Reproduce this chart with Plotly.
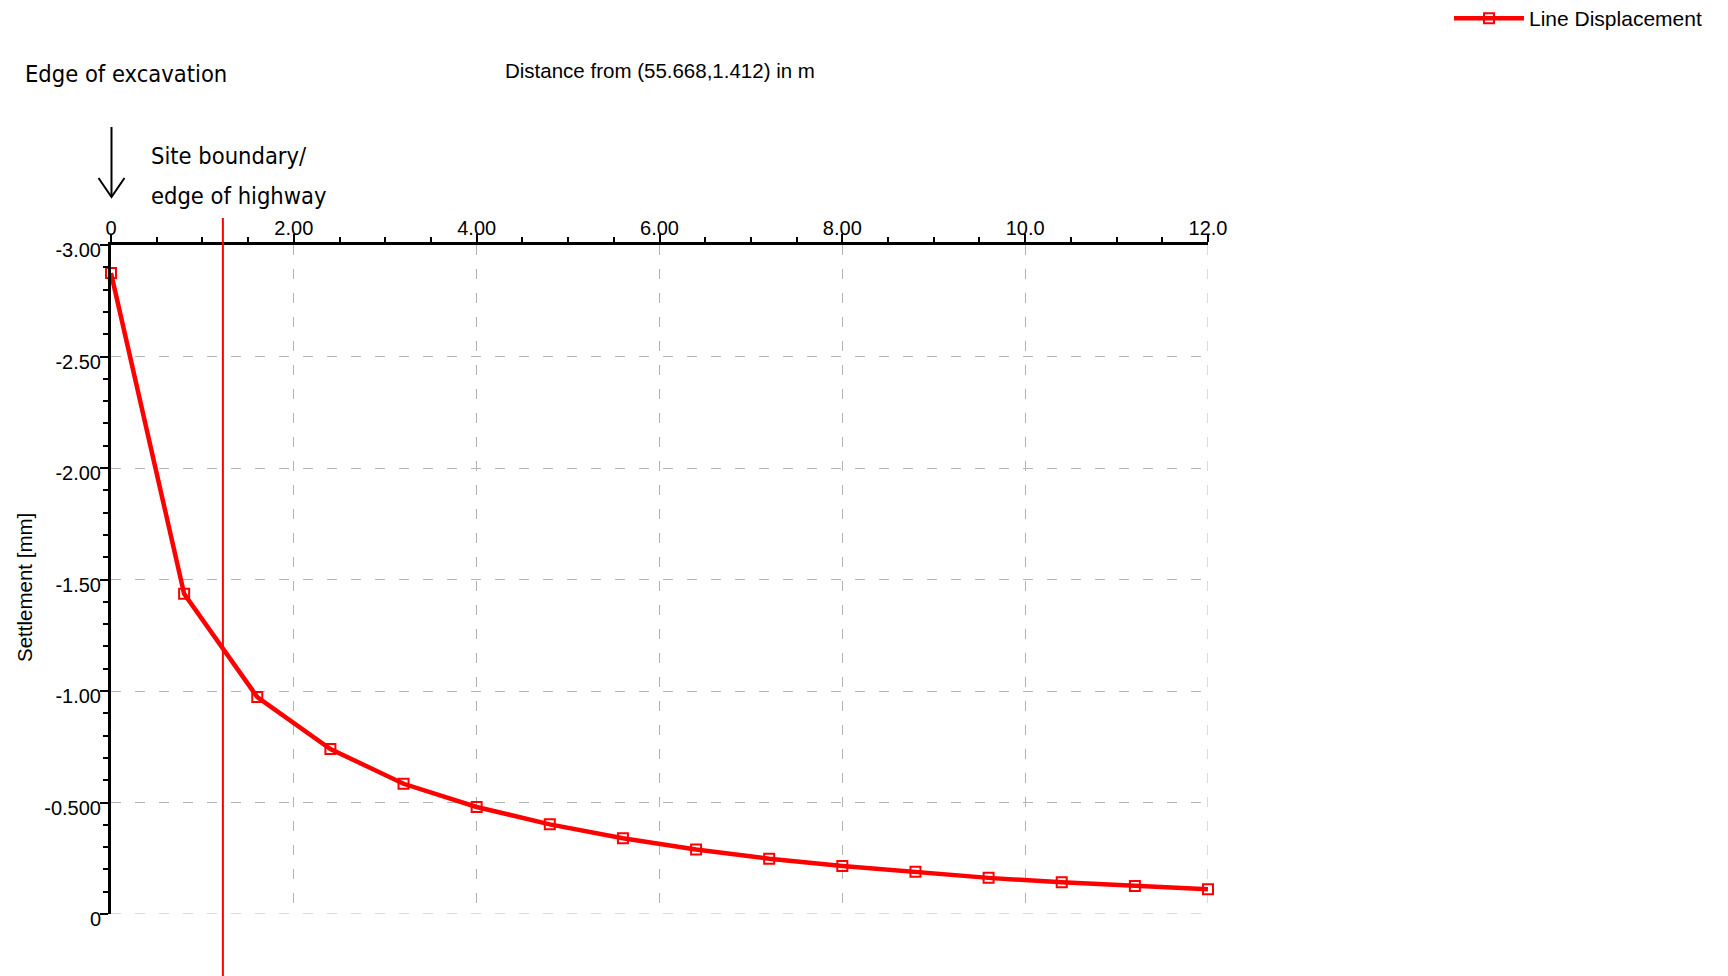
import plotly.graph_objects as go

# Settlement profile along the line (distance in m, settlement in mm)
distance_m = [0.0, 0.8, 1.6, 2.4, 3.2, 4.0, 4.8, 5.6, 6.4, 7.2, 8.0, 8.8, 9.6, 10.4, 11.2, 12.0]
settlement_mm = [-2.874, -1.436, -0.973, -0.740, -0.584, -0.480, -0.402, -0.340,
                 -0.289, -0.248, -0.215, -0.189, -0.162, -0.142, -0.126, -0.111]

x_tickvals = [0, 2, 4, 6, 8, 10, 12]
x_ticktext = ["0", "2.00", "4.00", "6.00", "8.00", "10.0", "12.0"]
y_tickvals = [-3.0, -2.5, -2.0, -1.5, -1.0, -0.5, 0.0]
y_ticktext = ["-3.00", "-2.50", "-2.00", "-1.50", "-1.00", "-0.500", "0"]

boundary_x = 1.224  # site boundary / edge of highway

W, H = 1728, 976
ML, MR, MT, MB = 111, 520, 245, 62
PW, PH = W - ML - MR, H - MT - MB


def px_to_paper_x(px):
    return (px - ML) / PW


def px_to_paper_y(py):
    return (H - MB - py) / PH


ARIAL = "Liberation Sans, Arial, sans-serif"
NARROW = "DejaVu Sans Condensed, Liberation Sans Narrow, sans-serif"
RED = "#ff0000"
GRID = "#b4b4b4"
DASH = "10px,14px"

fig = go.Figure()
fig.add_trace(go.Scatter(
    x=distance_m, y=settlement_mm,
    mode="lines+markers",
    name="Line Displacement",
    line=dict(color=RED, width=4.5),
    marker=dict(symbol="square-open", size=10, color=RED, line=dict(color=RED, width=2)),
    cliponaxis=False,
))

axis_common = dict(
    showline=True, linecolor="black", linewidth=3,
    ticks="outside", tickcolor="black", tickwidth=2, ticklen=8,
    showgrid=True, gridcolor=GRID, gridwidth=1, griddash=DASH,
    zeroline=False,
    tickfont=dict(family=ARIAL, size=20, color="black"),
)

fig.update_xaxes(
    range=[0, 12], side="top",
    tickmode="array", tickvals=x_tickvals, ticktext=x_ticktext,
    ticklabelstandoff=-9,
    minor=dict(dtick=0.5, ticks="outside", ticklen=5, tickcolor="black", tickwidth=2, showgrid=False),
    **axis_common,
)
fig.update_yaxes(
    range=[0, -3],
    tickmode="array", tickvals=y_tickvals, ticktext=y_ticktext,
    ticklabelstandoff=-5, ticklabelshift=-5,
    minor=dict(dtick=0.1, ticks="outside", ticklen=5, tickcolor="black", tickwidth=2, showgrid=False),
    **axis_common,
)

# dashed grid along the far edges (y = 0 and x = 12)
fig.add_shape(type="line", xref="x", yref="y", x0=x_tickvals[0], x1=x_tickvals[-1],
              y0=y_tickvals[-1], y1=y_tickvals[-1], line=dict(color=GRID, width=1, dash=DASH), layer="below")
fig.add_shape(type="line", xref="x", yref="y", x0=x_tickvals[-1], x1=x_tickvals[-1],
              y0=y_tickvals[0], y1=y_tickvals[-1], line=dict(color=GRID, width=1, dash=DASH), layer="below")

# vertical marker for the site boundary
fig.add_shape(type="line", xref="x", yref="paper",
              x0=boundary_x, x1=boundary_x,
              y0=px_to_paper_y(218), y1=px_to_paper_y(976),
              line=dict(color=RED, width=2))

# downward arrow at the edge of excavation
ax0 = px_to_paper_x(111.5)
ytop, ytip, ywing = px_to_paper_y(127), px_to_paper_y(197), px_to_paper_y(178)
wing = 13 / PW
fig.add_shape(type="line", xref="paper", yref="paper", x0=ax0, x1=ax0, y0=ytop, y1=ytip,
              line=dict(color="black", width=2))
fig.add_shape(type="path", xref="paper", yref="paper",
              path=f"M {ax0 - wing},{ywing} L {ax0},{ytip} L {ax0 + wing},{ywing}",
              line=dict(color="black", width=2))

annotations = [
    dict(text="Distance from (55.668,1.412) in m", x=0.5, y=px_to_paper_y(70.5),
         xanchor="center", yanchor="middle", font=dict(family=ARIAL, size=20.5, color="black")),
    dict(text="Settlement [mm]", x=px_to_paper_x(24), y=px_to_paper_y(588), textangle=-90,
         xanchor="center", yanchor="middle", font=dict(family=ARIAL, size=20.5, color="black")),
    dict(text="Edge of excavation", x=px_to_paper_x(23), y=px_to_paper_y(74),
         xanchor="left", yanchor="middle", font=dict(family=NARROW, size=23.5, color="black")),
    dict(text="Site boundary/", x=px_to_paper_x(149), y=px_to_paper_y(156),
         xanchor="left", yanchor="middle", font=dict(family=NARROW, size=23.5, color="black")),
    dict(text="edge of highway", x=px_to_paper_x(149), y=px_to_paper_y(196),
         xanchor="left", yanchor="middle", font=dict(family=NARROW, size=23.5, color="black")),
]
for a in annotations:
    a.update(xref="paper", yref="paper", showarrow=False)

fig.update_layout(
    width=W, height=H,
    margin=dict(l=ML, r=MR, t=MT, b=MB, pad=0, autoexpand=False),
    paper_bgcolor="white", plot_bgcolor="white",
    annotations=annotations,
    showlegend=True,
    legend=dict(x=px_to_paper_x(1449), y=px_to_paper_y(-2), xanchor="left", yanchor="top",
                bgcolor="rgba(0,0,0,0)", borderwidth=0,
                font=dict(family=ARIAL, size=21, color="black"), itemwidth=70),
)

fig.write_html("out.html")
